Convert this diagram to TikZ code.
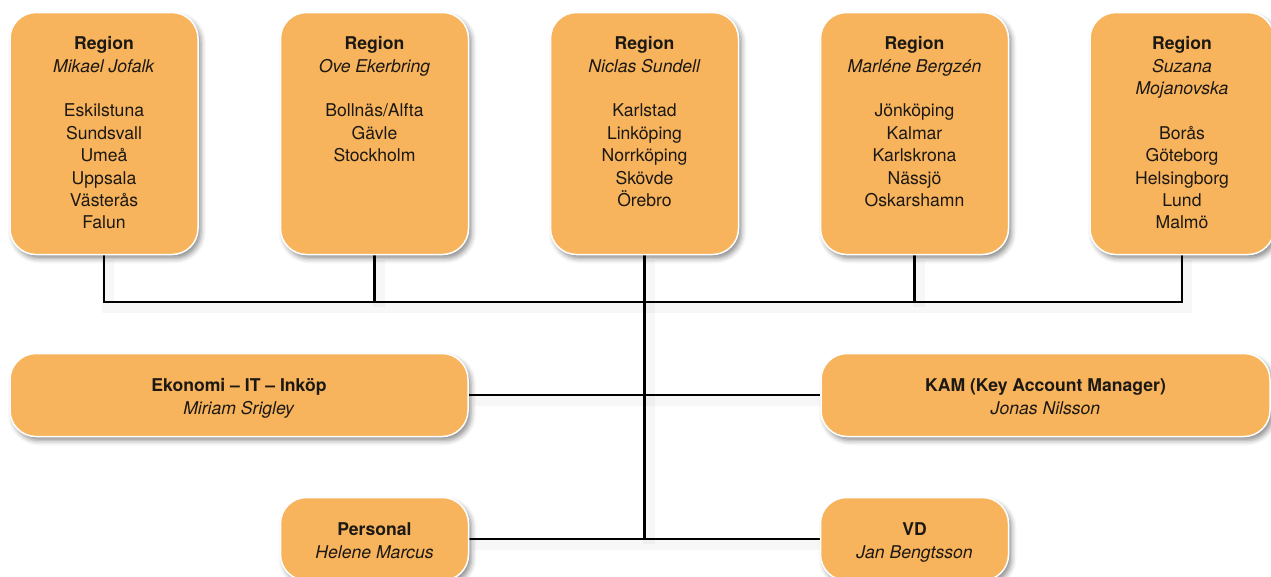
\documentclass[tikz,border=0pt]{standalone}
\usepackage{fontspec}
\setmainfont{TeX Gyre Heros}
\usetikzlibrary{shadows.blur,backgrounds}

\definecolor{boxorange}{RGB}{247,180,92}
\definecolor{inktext}{RGB}{28,24,20}
\newcommand{\regtxt}[2]{\parbox[c][194pt][t]{184pt}{\centering
  \textbf{Region}\\\textit{#1}\\[22.4pt]#2}}
\newcommand{\unittxt}[2]{\textbf{#1}\strut\\\textit{#2}\strut}

\begin{document}
\begin{tikzpicture}
[x=1pt,y=-1pt]
\tikzset{box/.style={draw=white,line width=1.5pt,fill=boxorange,rounded corners=26pt,
  text=inktext,font=\fontsize{17.6}{22.4}\selectfont,inner sep=0pt,
  blur shadow={shadow xshift=3pt,shadow yshift=-4pt,shadow blur radius=5pt,shadow opacity=45}}}
\tikzset{reg/.style={box,minimum width=188pt,minimum height=242pt}}
\tikzset{unit/.style={box,align=center,minimum height=83pt,text depth=-2pt}}
\tikzset{wire/.style={line width=2.2pt,
  preaction={draw=black,opacity=.03,line width=12pt,transform canvas={shift={(4pt,-5pt)}}}}}
\useasboundingbox (0,0) rectangle (1271,576);
\clip (0,0) rectangle (1271,576);

\node [reg] (r1) at (104,133.5) {\regtxt{Mikael Jofalk}{Eskilstuna\\Sundsvall\\Umeå\\Uppsala\\Västerås\\Falun}};
\node [reg] (r2) at (374.5,133.5) {\regtxt{Ove Ekerbring}{Bollnäs/Alfta\\Gävle\\Stockholm}};
\node [reg] (r3) at (644.5,133.5) {\regtxt{Niclas Sundell}{Karlstad\\Linköping\\Norrköping\\Skövde\\Örebro}};
\node [reg] (r4) at (914.5,133.5) {\regtxt{Marléne Bergzén}{Jönköping\\Kalmar\\Karlskrona\\Nässjö\\Oskarshamn}};
\node [reg,minimum width=180pt] (r5) at (1182,133.5) {\regtxt{Suzana\\Mojanovska}{Borås\\Göteborg\\Helsingborg\\Lund\\Malmö}};

\node [unit,minimum width=458pt] (eko) at (239,395) {\unittxt{Ekonomi – IT – Inköp}{Miriam Srigley}};
\node [unit,minimum width=449pt] (kam) at (1045.5,395) {\unittxt{KAM (Key Account Manager)}{Jonas Nilsson}};
\node [unit,minimum width=188pt] (pers) at (374.5,539) {\unittxt{Personal}{Helene Marcus}};
\node [unit,minimum width=188pt] (vd) at (914.5,539) {\unittxt{VD}{Jan Bengtsson}};

\coordinate (bus) at (644.5,302);
\begin{scope}[on background layer]
\draw [wire] (r1.south) |- (bus) -| (r5.south);
\foreach \from in {r2,r4}
	\draw [wire] (\from.south) -- (\from.south |- bus);
\draw [wire] (r3.south) -- (r3.south |- vd.west);
\foreach \from/\to in {eko/kam,pers/vd}
	\draw [wire] (\from.east) -- (\to.west);
\end{scope}
\end{tikzpicture}
\end{document}
